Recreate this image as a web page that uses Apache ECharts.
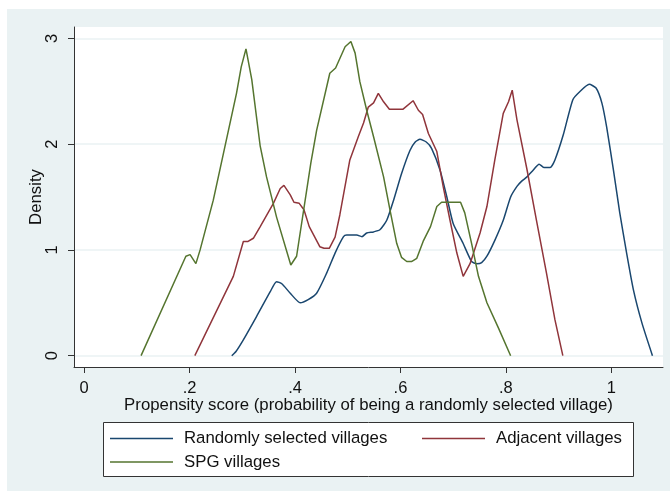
<!DOCTYPE html>
<html>
<head>
<meta charset="utf-8">
<script src="https://cdn.jsdelivr.net/npm/echarts@6/dist/echarts.min.js"></script>
<style>
  html, body { margin: 0; padding: 0; background: #ffffff; }
  #chart { width: 670px; height: 491px; }
</style>
</head>
<body>
<div id="chart"></div>
<script>
// density curves
var randomX = [0.280, 0.288, 0.302, 0.327, 0.353, 0.365, 0.375, 0.391, 0.410, 0.425, 0.441, 0.460, 0.476, 0.492,
    0.498, 0.517, 0.527, 0.536, 0.549, 0.561, 0.574, 0.587, 0.602, 0.618, 0.628, 0.637, 0.649, 0.659, 0.675,
    0.688, 0.700, 0.719, 0.735, 0.745, 0.754, 0.764, 0.779, 0.795, 0.809, 0.821, 0.830, 0.840, 0.852, 0.863,
    0.872, 0.884, 0.893, 0.909, 0.927, 0.941, 0.958, 0.971, 0.982, 0.991, 1.004, 1.016, 1.029, 1.042, 1.058, 1.078];
var randomY = [0.00, 0.04, 0.15, 0.37, 0.605, 0.70, 0.68, 0.59, 0.50, 0.53, 0.59, 0.78, 0.97, 1.125,
    1.14, 1.14, 1.125, 1.16, 1.17, 1.19, 1.28, 1.47, 1.72, 1.94, 2.02, 2.045, 2.02, 1.96, 1.755,
    1.50, 1.25, 1.06, 0.89, 0.87, 0.88, 0.94, 1.09, 1.28, 1.50, 1.60, 1.65, 1.69, 1.755, 1.81,
    1.78, 1.78, 1.85, 2.09, 2.42, 2.50, 2.565, 2.53, 2.39, 2.165, 1.755, 1.35, 0.97, 0.62, 0.31, 0.00];

var adjacentX = [0.210, 0.283, 0.302, 0.311, 0.321, 0.334, 0.359, 0.372, 0.379, 0.391, 0.398, 0.408, 0.417,
    0.427, 0.447, 0.455, 0.465, 0.476, 0.485, 0.504, 0.520, 0.530, 0.539, 0.549, 0.558, 0.568, 0.579, 0.605,
    0.624, 0.634, 0.642, 0.653, 0.669, 0.681, 0.694, 0.707, 0.719, 0.732, 0.751, 0.764, 0.779, 0.795, 0.805,
    0.812, 0.821, 0.840, 0.858, 0.877, 0.893, 0.908];
var adjacentY = [0.00, 0.75, 1.08, 1.08, 1.11, 1.22, 1.44, 1.58, 1.61, 1.52, 1.45, 1.44, 1.38,
    1.22, 1.03, 1.015, 1.015, 1.12, 1.33, 1.85, 2.07, 2.20, 2.35, 2.39, 2.48, 2.40, 2.33, 2.33,
    2.41, 2.32, 2.28, 2.10, 1.93, 1.60, 1.28, 0.97, 0.75, 0.87, 1.16, 1.41, 1.85, 2.29, 2.40,
    2.51, 2.23, 1.76, 1.28, 0.78, 0.34, 0.00];

var spgX = [0.108, 0.193, 0.201, 0.212, 0.220, 0.245, 0.289, 0.298, 0.307, 0.318, 0.334, 0.346, 0.365, 0.392,
    0.403, 0.430, 0.441, 0.466, 0.477, 0.495, 0.506, 0.514, 0.523, 0.536, 0.549, 0.568, 0.580, 0.593, 0.602,
    0.612, 0.621, 0.631, 0.643, 0.657, 0.669, 0.678, 0.714, 0.722, 0.735, 0.748, 0.764, 0.786, 0.809];
var spgY = [0.00, 0.94, 0.955, 0.87, 1.00, 1.47, 2.48, 2.73, 2.90, 2.61, 1.98, 1.69, 1.31, 0.857,
    0.94, 1.82, 2.13, 2.67, 2.72, 2.92, 2.97, 2.86, 2.59, 2.32, 2.07, 1.69, 1.38, 1.06, 0.93,
    0.89, 0.89, 0.92, 1.08, 1.22, 1.41, 1.45, 1.45, 1.35, 1.06, 0.75, 0.50, 0.26, 0.00];

var xTicks = [0, 0.2, 0.4, 0.6, 0.8, 1];
var yTicks = [0, 1, 2, 3];
var seriesNames = ['Randomly selected villages', 'Adjacent villages', 'SPG villages'];
var colors = ['#1a476f', '#90353b', '#55752f'];

function zip(xs, ys) {
    return xs.map(function (x, i) { return [x, ys[i]]; });
}

function fmtTick(v) {
    if (v === 0) return '0';
    if (v === 1) return '1';
    return String(v).replace(/^0/, '');
}

var chart = echarts.init(document.getElementById('chart'), null, {renderer: 'canvas'});
var font = 'Liberation Sans, Arial, sans-serif';

function legendAt(name, left, top) {
    return {
        data: [name],
        left: left, top: top,
        padding: 0,
        orient: 'horizontal',
        icon: 'rect',
        itemWidth: 63, itemHeight: 1.6,
        selectedMode: false,
        textStyle: {fontFamily: font, fontSize: 16.8, color: '#111', padding: [0, 0, 0, 6]}
    };
}

chart.setOption({
    animation: false,
    color: colors,
    graphic: [
        {type: 'rect', z: -10, shape: {x: 7, y: 9, width: 663, height: 482}, style: {fill: '#eaf2f3'}},
        {type: 'rect', z: 1, shape: {x: 103.5, y: 422.5, width: 530, height: 54},
            style: {fill: '#ffffff', stroke: '#333', lineWidth: 1}}
    ],
    grid: {left: 74, right: 7, top: 27, bottom: 124, show: true, backgroundColor: '#ffffff', borderWidth: 0},
    xAxis: {
        type: 'value', min: -0.0192, max: 1.098,
        name: 'Propensity score (probability of being a randomly selected village)',
        nameLocation: 'middle', nameGap: 30, nameMoveOverlap: false,
        nameTextStyle: {fontFamily: font, fontSize: 16.8, color: '#111', verticalAlign: 'top'},
        axisLine: {show: true, onZero: false, lineStyle: {color: '#333', width: 1}},
        axisTick: {show: true, length: 6, customValues: xTicks, lineStyle: {color: '#333'}},
        axisLabel: {customValues: xTicks, margin: 13, fontFamily: font, fontSize: 16.5, color: '#111',
            formatter: fmtTick},
        splitLine: {show: false}
    },
    yAxis: {
        type: 'value', min: -0.107, max: 3.107,
        name: 'Density', nameLocation: 'middle', nameGap: 29, nameRotate: 90, nameMoveOverlap: false,
        nameTextStyle: {fontFamily: font, fontSize: 16.8, color: '#111', verticalAlign: 'bottom'},
        axisLine: {show: true, onZero: false, lineStyle: {color: '#333', width: 1}},
        axisTick: {show: true, length: 6, customValues: yTicks, lineStyle: {color: '#333'}},
        axisLabel: {customValues: yTicks, rotate: 90, margin: 13, fontFamily: font, fontSize: 16.5, color: '#111'},
        splitLine: {show: true, lineStyle: {color: '#eaf2f3', width: 1.5}}
    },
    legend: [
        legendAt(seriesNames[0], 110, 430),
        legendAt(seriesNames[1], 422, 430),
        legendAt(seriesNames[2], 110, 453.5)
    ],
    series: [
        {name: seriesNames[0], type: 'line', data: zip(randomX, randomY), showSymbol: false, symbol: 'none',
            smooth: 0.2, lineStyle: {width: 1.5}},
        {name: seriesNames[1], type: 'line', data: zip(adjacentX, adjacentY), showSymbol: false, symbol: 'none',
            lineStyle: {width: 1.5}},
        {name: seriesNames[2], type: 'line', data: zip(spgX, spgY), showSymbol: false, symbol: 'none',
            lineStyle: {width: 1.5}}
    ]
});
</script>
</body>
</html>
